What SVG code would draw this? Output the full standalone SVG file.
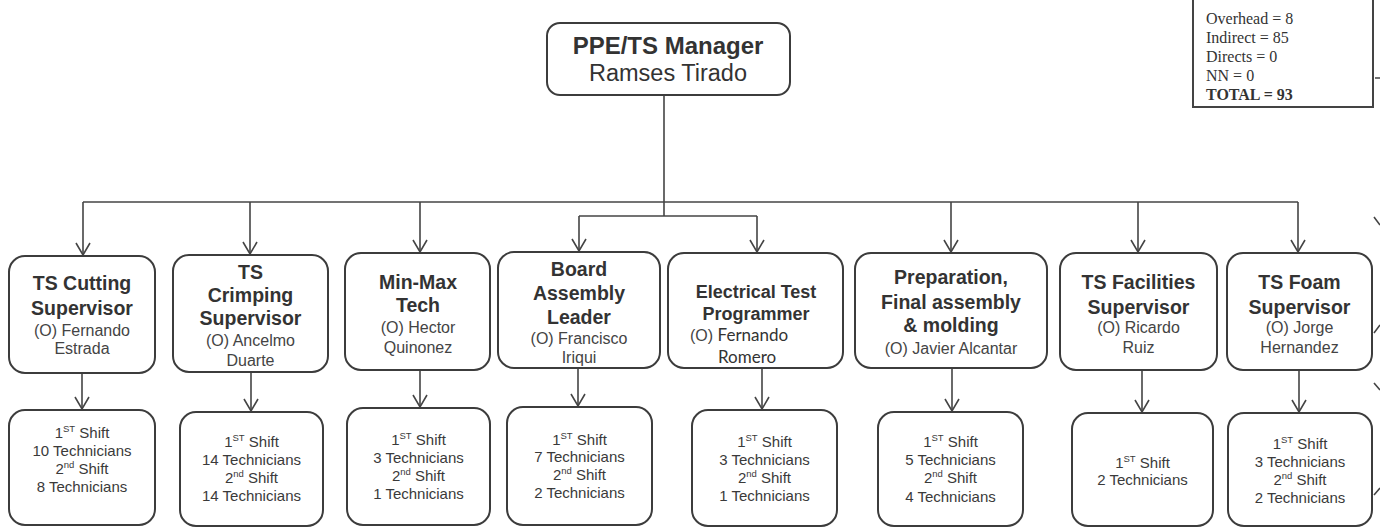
<svg xmlns="http://www.w3.org/2000/svg" width="1380" height="528" viewBox="0 0 1380 528">
<defs>
<style>
.box{fill:#fff;stroke:#3c3c3c;stroke-width:2}
.t{font-family:"Liberation Sans",Arial,sans-serif;font-weight:bold;font-size:19.5px;fill:#333;text-anchor:middle}
.n{font-family:"Liberation Sans",Arial,sans-serif;font-size:16px;fill:#444;text-anchor:middle}
.s{font-family:"Liberation Sans",Arial,sans-serif;font-size:15px;fill:#3a3a3a;text-anchor:middle}
.sup{font-size:9.5px}
.c{fill:none;stroke:#444;stroke-width:1.6}
.st{font-family:"Liberation Serif","Times New Roman",serif;font-size:16px;fill:#333}
.cal{font-family:Lato,"Open Sans",sans-serif;font-size:17px;fill:#333}
</style>
<marker id="ah" markerUnits="userSpaceOnUse" markerWidth="16" markerHeight="18" refX="13" refY="8" orient="auto" viewBox="0 0 16 18">
<path d="M1,1 L13,8 L1,15" fill="none" stroke="#444" stroke-width="1.6"/>
</marker>
</defs>
<rect x="0" y="0" width="1380" height="528" fill="#fff"/>

<g id="connectors" class="c">
<path d="M664,95 V216"/>
<path d="M83,202 H1298"/>
<path d="M83,202 V255" marker-end="url(#ah)"/>
<path d="M250,202 V254" marker-end="url(#ah)"/>
<path d="M420,202 V252" marker-end="url(#ah)"/>
<path d="M951,202 V252" marker-end="url(#ah)"/>
<path d="M1138,202 V252" marker-end="url(#ah)"/>
<path d="M1298,202 V252" marker-end="url(#ah)"/>
<path d="M579,216 H757"/>
<path d="M579,216 V251" marker-end="url(#ah)"/>
<path d="M757,216 V252" marker-end="url(#ah)"/>
<path d="M82,373 V409" marker-end="url(#ah)"/>
<path d="M251,372 V411" marker-end="url(#ah)"/>
<path d="M420,370 V407" marker-end="url(#ah)"/>
<path d="M578,368 V406" marker-end="url(#ah)"/>
<path d="M762,368 V409" marker-end="url(#ah)"/>
<path d="M952,368 V411" marker-end="url(#ah)"/>
<path d="M1142,370 V412" marker-end="url(#ah)"/>
<path d="M1299,370 V412" marker-end="url(#ah)"/>
<path d="M1374,217 L1380,225 M1374,333 L1380,325 M1374,383 L1380,390 M1374,495 L1380,488 M1375,78 H1380"/>
</g>

<g id="stats">
<rect x="1193" y="-5" width="180" height="112" fill="#fff" stroke="#444" stroke-width="2"/>
<text class="st" x="1206" y="23.5">Overhead = 8</text>
<text class="st" x="1206" y="42.5">Indirect = 85</text>
<text class="st" x="1206" y="61.5">Directs = 0</text>
<text class="st" x="1206" y="80.5">NN = 0</text>
<text class="st" x="1206" y="99.5" style="font-weight:bold">TOTAL = 93</text>
</g>

<g id="manager">
<rect class="box" x="547" y="23" width="243" height="72" rx="13"/>
<text class="t" x="668" y="53.5" style="font-size:24px">PPE/TS Manager</text>
<text class="n" x="668" y="81" style="font-size:23.5px;fill:#333">Ramses Tirado</text>
</g>

<g id="cutting">
<rect class="box" x="9" y="256" width="146" height="117" rx="16"/>
<text class="t" x="82" y="290">TS Cutting</text>
<text class="t" x="82" y="315">Supervisor</text>
<text class="n" x="82" y="336">(O) Fernando</text>
<text class="n" x="82" y="354">Estrada</text>
</g>
<g id="crimping">
<rect class="box" x="173" y="255" width="155" height="117" rx="16"/>
<text class="t" x="250.5" y="279">TS</text>
<text class="t" x="250.5" y="302">Crimping</text>
<text class="t" x="250.5" y="325">Supervisor</text>
<text class="n" x="250.5" y="346">(O) Ancelmo</text>
<text class="n" x="250.5" y="366">Duarte</text>
</g>
<g id="minmax">
<rect class="box" x="345" y="253" width="145" height="117" rx="16"/>
<text class="t" x="418" y="289">Min-Max</text>
<text class="t" x="418" y="312">Tech</text>
<text class="n" x="418" y="333">(O) Hector</text>
<text class="n" x="418" y="353">Quinonez</text>
</g>
<g id="board">
<rect class="box" x="498" y="252" width="162" height="116" rx="16"/>
<text class="t" x="579" y="276">Board</text>
<text class="t" x="579" y="300">Assembly</text>
<text class="t" x="579" y="324">Leader</text>
<text class="n" x="579" y="344">(O) Francisco</text>
<text class="n" x="579" y="363">Iriqui</text>
</g>
<g id="electrical">
<rect class="box" x="668" y="253" width="175" height="115" rx="16"/>
<text class="t" x="756" y="298" style="font-size:18px">Electrical Test</text>
<text class="t" x="756" y="320" style="font-size:18px">Programmer</text>
<text class="n" x="690" y="341" style="text-anchor:start">(O) <tspan class="cal">Fernando</tspan></text>
<text class="cal" x="718" y="363">Romero</text>
</g>
<g id="preparation">
<rect class="box" x="855" y="253" width="192" height="115" rx="16"/>
<text class="t" x="951" y="284">Preparation,</text>
<text class="t" x="951" y="309">Final assembly</text>
<text class="t" x="951" y="332">&amp; molding</text>
<text class="n" x="951" y="354">(O) Javier Alcantar</text>
</g>
<g id="facilities">
<rect class="box" x="1060" y="253" width="157" height="117" rx="16"/>
<text class="t" x="1138.5" y="289">TS Facilities</text>
<text class="t" x="1138.5" y="314">Supervisor</text>
<text class="n" x="1138.5" y="333">(O) Ricardo</text>
<text class="n" x="1138.5" y="353">Ruiz</text>
</g>
<g id="foam">
<rect class="box" x="1227" y="253" width="145" height="117" rx="16"/>
<text class="t" x="1299.5" y="289">TS Foam</text>
<text class="t" x="1299.5" y="314">Supervisor</text>
<text class="n" x="1299.5" y="333">(O) Jorge</text>
<text class="n" x="1299.5" y="353">Hernandez</text>
</g>

<g id="cutting-shifts">
<rect class="box" x="9" y="410" width="146" height="115" rx="16"/>
<text class="s" x="82" y="438">1<tspan class="sup" dy="-6">ST</tspan><tspan dy="6"> Shift</tspan></text>
<text class="s" x="82" y="456">10 Technicians</text>
<text class="s" x="82" y="474">2<tspan class="sup" dy="-6">nd</tspan><tspan dy="6"> Shift</tspan></text>
<text class="s" x="82" y="492">8 Technicians</text>
</g>
<g id="crimping-shifts">
<rect class="box" x="180" y="412" width="143" height="114" rx="16"/>
<text class="s" x="251.5" y="447">1<tspan class="sup" dy="-6">ST</tspan><tspan dy="6"> Shift</tspan></text>
<text class="s" x="251.5" y="465">14 Technicians</text>
<text class="s" x="251.5" y="483">2<tspan class="sup" dy="-6">nd</tspan><tspan dy="6"> Shift</tspan></text>
<text class="s" x="251.5" y="501">14 Technicians</text>
</g>
<g id="minmax-shifts">
<rect class="box" x="347" y="408" width="143" height="117" rx="16"/>
<text class="s" x="418.5" y="445">1<tspan class="sup" dy="-6">ST</tspan><tspan dy="6"> Shift</tspan></text>
<text class="s" x="418.5" y="463">3 Technicians</text>
<text class="s" x="418.5" y="481">2<tspan class="sup" dy="-6">nd</tspan><tspan dy="6"> Shift</tspan></text>
<text class="s" x="418.5" y="499">1 Technicians</text>
</g>
<g id="board-shifts">
<rect class="box" x="507" y="407" width="145" height="118" rx="16"/>
<text class="s" x="579.5" y="445">1<tspan class="sup" dy="-6">ST</tspan><tspan dy="6"> Shift</tspan></text>
<text class="s" x="579.5" y="462">7 Technicians</text>
<text class="s" x="579.5" y="480">2<tspan class="sup" dy="-6">nd</tspan><tspan dy="6"> Shift</tspan></text>
<text class="s" x="579.5" y="498">2 Technicians</text>
</g>
<g id="electrical-shifts">
<rect class="box" x="692" y="410" width="145" height="116" rx="16"/>
<text class="s" x="764.5" y="447">1<tspan class="sup" dy="-6">ST</tspan><tspan dy="6"> Shift</tspan></text>
<text class="s" x="764.5" y="465">3 Technicians</text>
<text class="s" x="764.5" y="483">2<tspan class="sup" dy="-6">nd</tspan><tspan dy="6"> Shift</tspan></text>
<text class="s" x="764.5" y="501">1 Technicians</text>
</g>
<g id="preparation-shifts">
<rect class="box" x="878" y="412" width="145" height="114" rx="16"/>
<text class="s" x="950.5" y="447">1<tspan class="sup" dy="-6">ST</tspan><tspan dy="6"> Shift</tspan></text>
<text class="s" x="950.5" y="465">5 Technicians</text>
<text class="s" x="950.5" y="483">2<tspan class="sup" dy="-6">nd</tspan><tspan dy="6"> Shift</tspan></text>
<text class="s" x="950.5" y="502">4 Technicians</text>
</g>
<g id="facilities-shifts">
<rect class="box" x="1072" y="413" width="141" height="113" rx="16"/>
<text class="s" x="1142.5" y="468">1<tspan class="sup" dy="-6">ST</tspan><tspan dy="6"> Shift</tspan></text>
<text class="s" x="1142.5" y="485">2 Technicians</text>
</g>
<g id="foam-shifts">
<rect class="box" x="1228" y="413" width="144" height="113" rx="16"/>
<text class="s" x="1300" y="449">1<tspan class="sup" dy="-6">ST</tspan><tspan dy="6"> Shift</tspan></text>
<text class="s" x="1300" y="467">3 Technicians</text>
<text class="s" x="1300" y="485">2<tspan class="sup" dy="-6">nd</tspan><tspan dy="6"> Shift</tspan></text>
<text class="s" x="1300" y="503">2 Technicians</text>
</g>
</svg>
